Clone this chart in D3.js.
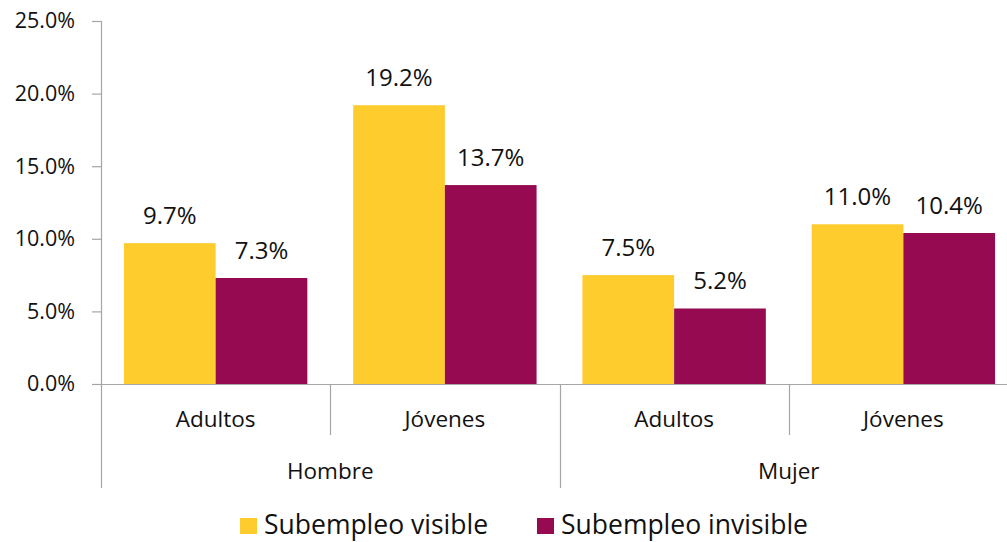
<!DOCTYPE html>
<html lang="es">
<head>
<meta charset="utf-8">
<script src="https://cdn.jsdelivr.net/npm/d3@7"></script>
<style>
  html, body { margin: 0; padding: 0; background: #fff; }
  svg { display: block; font-family: "Open Sans", "Noto Sans", sans-serif; }
</style>
</head>
<body>
<svg id="chart" width="1007" height="542"></svg>
<script>
// Subempleo por sexo y grupo de edad (%)
const generos = ["Hombre", "Mujer"];
const grupos = ["Adultos", "Jóvenes"];
const series = ["Subempleo visible", "Subempleo invisible"];
const visible = [9.7, 19.2, 7.5, 11.0];
const invisible = [7.3, 13.7, 5.2, 10.4];
const yTicks = [0, 5, 10, 15, 20, 25];
const colores = ["#FFCC2E", "#960A52"];

(function () {
  // Categorías combinadas sexo × grupo
  const categorias = [];
  generos.forEach(g => grupos.forEach(e => categorias.push({ genero: g, grupo: e, key: g + "|" + e })));
  const valores = [visible, invisible];

  const svg = d3.select("#chart");
  const plotLeft = 101, plotRight = 1018, plotTop = 21, base = 384;
  const axisColor = "#a6a6a6";
  const textColor = "#111";

  const y = d3.scaleLinear().domain([0, 25]).range([base, plotTop]);
  const x0 = d3.scaleBand().domain(categorias.map(c => c.key)).range([plotLeft, plotRight]);
  const x1 = d3.scaleBand().domain(series).range([0, x0.bandwidth()]).paddingOuter(0.25).paddingInner(0);

  const pct = d => d3.format(".1f")(d) + "%";

  // Eje Y
  const yAxis = d3.axisLeft(y).tickValues(yTicks).tickFormat(pct).tickSize(9).tickPadding(17);
  const gy = svg.append("g").attr("transform", `translate(${plotLeft},0)`).call(yAxis);
  gy.select(".domain").remove();
  gy.selectAll(".tick line").attr("stroke", axisColor).attr("stroke-width", 1.2);
  gy.selectAll(".tick text")
    .attr("fill", textColor)
    .style("font-size", "21.5px")
    .style("font-family", "'Open Sans', sans-serif");

  // Barras
  const gBars = svg.append("g");
  series.forEach((s, si) => {
    gBars.selectAll(null)
      .data(categorias)
      .join("rect")
      .attr("x", c => x0(c.key) + x1(s))
      .attr("y", (c, i) => y(valores[si][i]))
      .attr("width", x1.bandwidth())
      .attr("height", (c, i) => base - y(valores[si][i]))
      .attr("fill", colores[si]);
  });

  // Etiquetas de valor
  series.forEach((s, si) => {
    svg.append("g").selectAll("text")
      .data(categorias)
      .join("text")
      .attr("x", c => x0(c.key) + x1(s) + x1.bandwidth() / 2)
      .attr("y", (c, i) => y(valores[si][i]) - 19)
      .attr("text-anchor", "middle")
      .attr("fill", textColor)
      .style("font-size", "24px")
      .text((c, i) => pct(valores[si][i]));
  });

  // Eje X con categorías jerárquicas
  const gx = svg.append("g").attr("stroke", axisColor).attr("stroke-width", 1.2);
  gx.append("line").attr("x1", 92).attr("x2", plotRight).attr("y1", base + 0.5).attr("y2", base + 0.5);
  // Eje vertical izquierdo (se prolonga por el área de categorías)
  gx.append("line").attr("x1", plotLeft + 0.5).attr("x2", plotLeft + 0.5).attr("y1", plotTop).attr("y2", 488);

  categorias.forEach((c, i) => {
    const xr = x0(c.key) + x0.bandwidth();
    const esFinGrupo = (i % grupos.length) === grupos.length - 1;
    gx.append("line")
      .attr("x1", Math.round(xr) + 0.5).attr("x2", Math.round(xr) + 0.5)
      .attr("y1", base).attr("y2", esFinGrupo ? 488 : 435);
  });

  svg.append("g").selectAll("text")
    .data(categorias)
    .join("text")
    .attr("x", c => x0(c.key) + x0.bandwidth() / 2)
    .attr("y", 427)
    .attr("text-anchor", "middle")
    .attr("fill", textColor)
    .style("font-size", "22.5px")
    .text(c => c.grupo);

  svg.append("g").selectAll("text")
    .data(generos)
    .join("text")
    .attr("x", g => {
      const ks = categorias.filter(c => c.genero === g).map(c => c.key);
      return (x0(ks[0]) + x0(ks[ks.length - 1]) + x0.bandwidth()) / 2;
    })
    .attr("y", 479)
    .attr("text-anchor", "middle")
    .attr("fill", textColor)
    .style("font-size", "22.5px")
    .text(g => g);

  // Leyenda
  const legendX = [240, 537];
  const leg = svg.append("g").selectAll("g")
    .data(series)
    .join("g")
    .attr("transform", (d, i) => `translate(${legendX[i]},518)`);
  leg.append("rect").attr("width", 17).attr("height", 16).attr("fill", (d, i) => colores[i]);
  leg.append("text")
    .attr("x", 24).attr("y", 16)
    .attr("fill", textColor)
    .style("font-size", "26.5px")
    .text(d => d);
})();
</script>
</body>
</html>
